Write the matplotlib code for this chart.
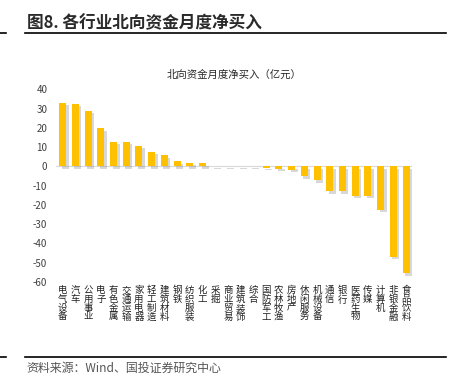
import matplotlib
matplotlib.use("Agg")
import matplotlib.pyplot as plt
from matplotlib.lines import Line2D
import matplotlib.patheffects as pe

plt.rcParams['font.family'] = ['Noto Sans CJK SC', 'DejaVu Sans']

categories = ["电气设备", "汽车", "公用事业", "电子", "有色金属", "交通运输", "家用电器",
              "轻工制造", "建筑材料", "钢铁", "纺织服装", "化工", "采掘", "商业贸易",
              "建筑装饰", "综合", "国防军工", "农林牧渔", "房地产", "休闲服务", "机械设备",
              "通信", "银行", "医药生物", "传媒", "计算机", "非银金融", "食品饮料"]
values = [33.0, 32.6, 28.8, 19.8, 12.8, 12.8, 10.8, 7.6, 5.9, 2.7, 1.9, 1.5, 0.3, 0.3,
          0.3, 0.3, -0.8, -1.3, -1.7, -5.0, -7.3, -12.8, -13.0, -15.3, -15.3, -22.6,
          -47.0, -55.5]
yticks = [40, 30, 20, 10, 0, -10, -20, -30, -40, -50, -60]

W, H = 455, 391
fig = plt.figure(figsize=(W / 100, H / 100), dpi=100)
ax = fig.add_axes([56.3 / W, 1 - 282 / H, (412.4 - 56.3) / W, (282 - 89.3) / H])

x = list(range(len(categories)))
bars = ax.bar(x, values, width=0.55, color="#FFC000", zorder=3)
for b in bars:
    b.set_path_effects([pe.SimplePatchShadow(offset=(1.8, -1.8), shadow_rgbFace="#7f7f7f", alpha=0.3),
                        pe.Normal()])

ax.set_xlim(-0.5, len(categories) - 0.5)
ax.set_ylim(-60, 40)
ax.set_yticks(yticks)
ax.set_yticklabels([str(t) for t in yticks], fontsize=7, color="#404040")
ax.tick_params(axis="y", length=0, pad=6.5)
ax.set_xticks([])
for s in ax.spines.values():
    s.set_visible(False)
ax.axhline(0, color="#d9d9d9", lw=0.8, zorder=2)

for i, c in enumerate(categories):
    ax.text(i, -62, "\n".join(c), ha="center", va="top", fontsize=6.8, color="#222222",
            linespacing=0.98, transform=ax.transData, clip_on=False)

fig.text(234 / W, 1 - 75 / H, "北向资金月度净买入（亿元）", ha="center", va="center",
         fontsize=7.5, color="#262626")

fig.text(26.7 / W, 1 - 23 / H, "图8. 各行业北向资金月度净买入", ha="left", va="center",
         fontsize=12, color="#2a2a2a", fontweight="bold")

for yy in (33.3, 357.3):
    fig.add_artist(Line2D([25 / W, 446 / W], [1 - yy / H] * 2, color="#000000", lw=1.2))
    fig.add_artist(Line2D([0, 5.7 / W], [1 - yy / H] * 2, color="#000000", lw=1.2))

fig.text(26.7 / W, 1 - 368 / H, "资料来源：Wind、国投证券研究中心", ha="left", va="center",
         fontsize=8.6, color="#555555", style="italic")

fig.savefig("out.png", dpi=100)
